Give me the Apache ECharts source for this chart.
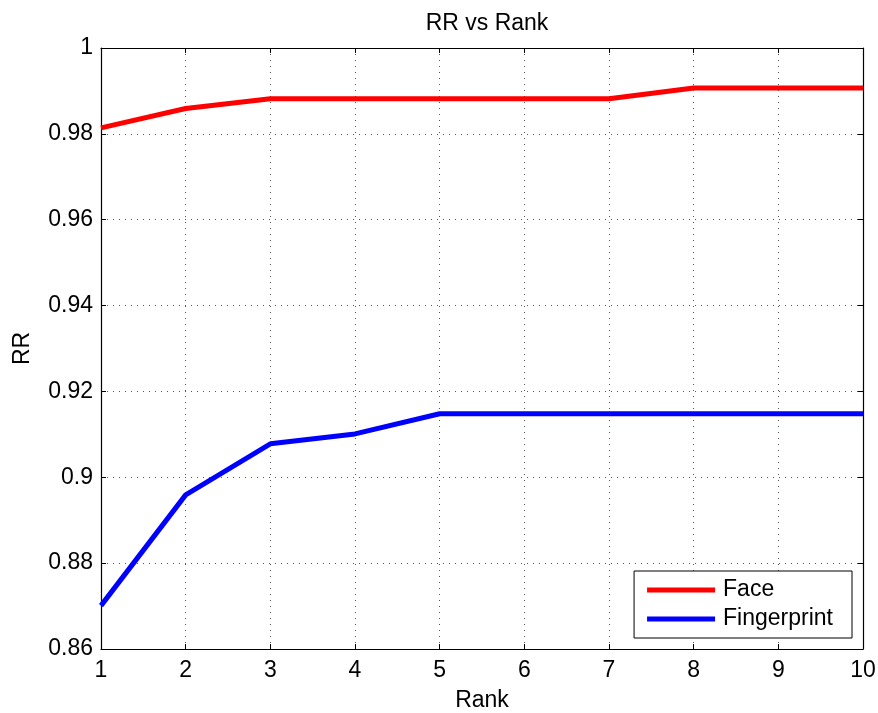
<!DOCTYPE html>
<html>
<head>
<meta charset="utf-8">
<script src="https://cdn.jsdelivr.net/npm/echarts@6/dist/echarts.min.js"></script>
<style>
  html, body { margin: 0; padding: 0; background: #fff; }
  #chart { width: 878px; height: 713px; }
</style>
</head>
<body>
<div id="chart"></div>
<script>
// Recognition rate by rank for each biometric modality
const ranks = [1, 2, 3, 4, 5, 6, 7, 8, 9, 10];
const faceRR = [0.9814, 0.9859, 0.9882, 0.9882, 0.9882, 0.9882, 0.9882, 0.9907, 0.9907, 0.9907];
const fingerprintRR = [0.8701, 0.8959, 0.9078, 0.9101, 0.9148, 0.9148, 0.9148, 0.9148, 0.9148, 0.9148];
const seriesNames = ['Face', 'Fingerprint'];

const FONT = 'Liberation Sans, Arial, Helvetica, sans-serif';
const FS = 23;
const pairs = (vals) => ranks.map((r, i) => [r, vals[i]]);

const dotted = { show: true, lineStyle: { color: '#555', width: 1, type: [1, 5] } };
const axisLine = { show: true, onZero: false, lineStyle: { color: '#000', width: 1.2 } };
const tick = { show: true, inside: true, length: 5, lineStyle: { color: '#000', width: 1 } };

const chart = echarts.init(document.getElementById('chart'), null, { renderer: 'canvas' });
chart.setOption({
  backgroundColor: '#fff',
  animation: false,
  title: {
    text: 'RR vs Rank',
    left: 482, top: 7, textAlign: 'center',
    textStyle: { fontFamily: FONT, fontSize: FS, fontWeight: 'normal', color: '#000' }
  },
  // fixed plot box; labels may sit close to the canvas edge
  grid: { left: 101, right: 15, top: 48, height: 601, containLabel: false, outerBoundsMode: 'none' },
  legend: {
    data: seriesNames,
    orient: 'vertical',
    right: 26, top: 571,
    padding: [7, 19, 7, 13],
    itemGap: 5,
    itemWidth: 68, itemHeight: 5,
    icon: 'rect',
    backgroundColor: '#fff',
    borderColor: '#000', borderWidth: 1,
    textStyle: { fontFamily: FONT, fontSize: FS, color: '#000', lineHeight: 24, padding: [0, 0, 0, 3] }
  },
  xAxis: [{
    type: 'value', min: 1, max: 10, interval: 1,
    name: 'Rank', nameLocation: 'middle', nameGap: 40,
    nameTextStyle: { fontFamily: FONT, fontSize: FS, color: '#000' },
    axisLine, axisTick: tick,
    axisLabel: { fontFamily: FONT, fontSize: FS, color: '#000', margin: 10 },
    splitLine: dotted
  }, {
    type: 'value', min: 1, max: 10, interval: 1, position: 'top',
    axisLine, axisTick: tick, axisLabel: { show: false }, splitLine: { show: false }
  }],
  yAxis: [{
    type: 'value', min: 0.86, max: 1, interval: 0.02,
    name: 'RR', nameLocation: 'middle', nameGap: 67,
    nameTextStyle: { fontFamily: FONT, fontSize: FS, color: '#000' },
    axisLine, axisTick: tick,
    axisLabel: { fontFamily: FONT, fontSize: FS, color: '#000', margin: 8 },
    splitLine: dotted
  }, {
    type: 'value', min: 0.86, max: 1, interval: 0.02, position: 'right',
    axisLine, axisTick: tick, axisLabel: { show: false }, splitLine: { show: false }
  }],
  series: [{
    name: seriesNames[0], type: 'line', data: pairs(faceRR),
    showSymbol: false, symbol: 'none', color: '#ff0000',
    lineStyle: { width: 5, color: '#ff0000' }
  }, {
    name: seriesNames[1], type: 'line', data: pairs(fingerprintRR),
    showSymbol: false, symbol: 'none', color: '#0000ff',
    lineStyle: { width: 5, color: '#0000ff' }
  }]
});
</script>
</body>
</html>
